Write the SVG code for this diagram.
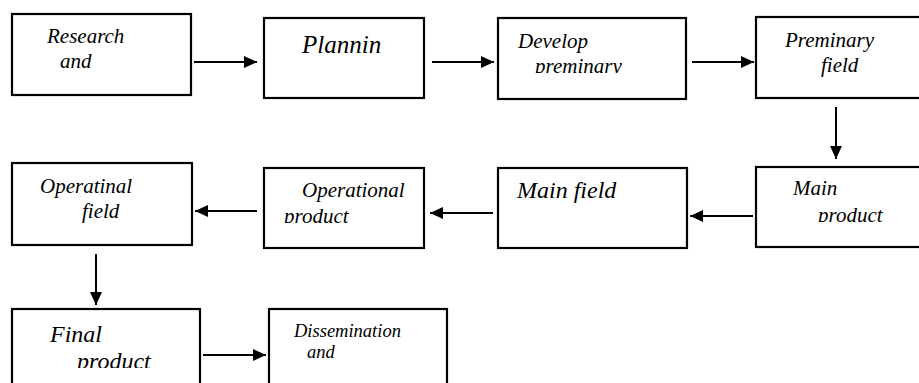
<svg xmlns="http://www.w3.org/2000/svg" width="919" height="383" viewBox="0 0 919 383">
<style>
.box{fill:#fff;stroke:#000;stroke-width:2.2}
.c{stroke:#000;stroke-width:2;fill:none}
</style>
<defs>
<marker id="ah" markerUnits="userSpaceOnUse" markerWidth="14" markerHeight="12" refX="13" refY="6" orient="auto">
<path d="M0,0 L13,6 L0,12 Z" fill="#000"/>
</marker>
<clipPath id="c3"><rect x="0" y="0" width="919" height="73"/></clipPath>
<clipPath id="c6"><rect x="0" y="0" width="919" height="223"/></clipPath>
<clipPath id="c8"><rect x="0" y="0" width="919" height="222"/></clipPath>
<clipPath id="c9"><rect x="0" y="0" width="919" height="368"/></clipPath>
</defs>
<rect width="919" height="383" fill="#fff"/>
<g id="n1"><rect class="box" x="12" y="14" width="179" height="81"/><text font-family="Liberation Serif" font-style="italic" font-size="21" x="47" y="43">Research</text><text font-family="Liberation Serif" font-style="italic" font-size="21" x="60" y="68">and</text></g>
<g id="n2"><rect class="box" x="264" y="18" width="160" height="80"/><text font-family="Liberation Serif" font-style="italic" font-size="25" x="302" y="53">Plannin</text></g>
<g id="n3"><rect class="box" x="498" y="18" width="188" height="81"/><text font-family="Liberation Serif" font-style="italic" font-size="21" x="518" y="48">Develop</text><g clip-path="url(#c3)"><text font-family="Liberation Serif" font-style="italic" font-size="21" x="535" y="73">preminary</text></g></g>
<g id="n4"><rect class="box" x="756" y="17" width="170" height="81"/><text font-family="Liberation Serif" font-style="italic" font-size="21" x="785" y="47">Preminary</text><text font-family="Liberation Serif" font-style="italic" font-size="21" x="821" y="72">field</text></g>
<g id="n5"><rect class="box" x="756" y="167" width="170" height="80"/><text font-family="Liberation Serif" font-style="italic" font-size="21" x="793" y="195">Main</text><g clip-path="url(#c8)"><text font-family="Liberation Serif" font-style="italic" font-size="21" x="818" y="222">product</text></g></g>
<g id="n6"><rect class="box" x="498" y="168" width="189" height="80"/><text font-family="Liberation Serif" font-style="italic" font-size="24" x="517" y="198">Main field</text></g>
<g id="n7"><rect class="box" x="264" y="168" width="160" height="80"/><text font-family="Liberation Serif" font-style="italic" font-size="21" x="302" y="197">Operational</text><g clip-path="url(#c6)"><text font-family="Liberation Serif" font-style="italic" font-size="21" x="284" y="223">product</text></g></g>
<g id="n8"><rect class="box" x="12" y="163" width="180" height="82"/><text font-family="Liberation Serif" font-style="italic" font-size="21" x="40" y="193">Operatinal</text><text font-family="Liberation Serif" font-style="italic" font-size="21" x="82" y="218">field</text></g>
<g id="n9"><rect class="box" x="12" y="309" width="188" height="90"/><text font-family="Liberation Serif" font-style="italic" font-size="24" x="50" y="342">Final</text><g clip-path="url(#c9)"><text font-family="Liberation Serif" font-style="italic" font-size="24" x="77" y="369">product</text></g></g>
<g id="n10"><rect class="box" x="269" y="309" width="178" height="90"/><text font-family="Liberation Serif" font-style="italic" font-size="18.5" x="294" y="337">Dissemination</text><text font-family="Liberation Serif" font-style="italic" font-size="18.5" x="307" y="358">and</text></g>
<g id="connectors">
<line class="c" x1="194" y1="62" x2="257" y2="62" marker-end="url(#ah)"/>
<line class="c" x1="432" y1="62" x2="494" y2="62" marker-end="url(#ah)"/>
<line class="c" x1="692" y1="62" x2="754" y2="62" marker-end="url(#ah)"/>
<line class="c" x1="836" y1="107" x2="836" y2="159" marker-end="url(#ah)"/>
<line class="c" x1="753" y1="216" x2="690" y2="216" marker-end="url(#ah)"/>
<line class="c" x1="493" y1="213" x2="430" y2="213" marker-end="url(#ah)"/>
<line class="c" x1="257" y1="211" x2="195" y2="211" marker-end="url(#ah)"/>
<line class="c" x1="96" y1="254" x2="96" y2="305" marker-end="url(#ah)"/>
<line class="c" x1="203" y1="355" x2="266" y2="355" marker-end="url(#ah)"/>
</g>
</svg>
